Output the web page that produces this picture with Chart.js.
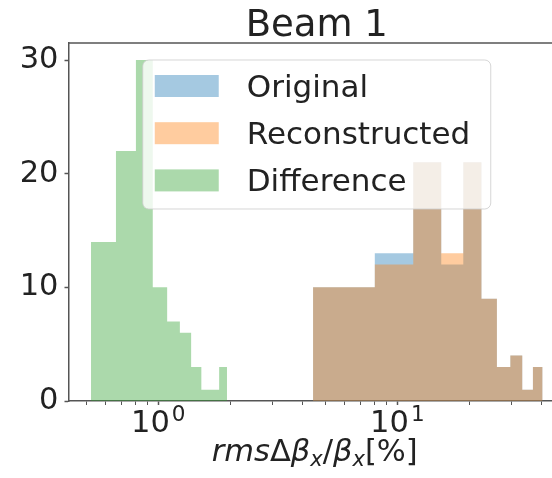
<!DOCTYPE html>
<html>
<head>
<meta charset="utf-8">
<script src="https://cdn.jsdelivr.net/npm/chart.js@4.4.1/dist/chart.umd.min.js"></script>
<style>
  html, body { margin: 0; padding: 0; background: #fff; overflow: hidden; }
  #wrap { width: 552px; height: 478px; overflow: hidden; }
</style>
</head>
<body>
<div id="wrap"><canvas id="histChart" width="567" height="478"></canvas></div>
<script>

    // histogram data
    const seriesLabels = ['Original', 'Reconstructed', 'Difference'];
    const beamEdges = [4.44, 8.05, 11.66, 15.27, 18.88, 22.49, 26.10, 29.71, 33.32, 36.93, 40.54];
    const originalCounts = [10, 13, 21, 12, 21, 9, 3, 4, 1, 3];
    const reconstructedCounts = [10, 12, 21, 13, 21, 9, 3, 4, 1, 3];
    const diffEdges = [0.523, 0.665, 0.806, 0.948, 1.089, 1.231, 1.372, 1.514, 1.655, 1.797, 1.938];
    const diffCounts = [14, 22, 30, 10, 7, 6, 3, 1, 1, 3];

    const xTickValues = [0.5, 0.6, 0.7, 0.8, 0.9, 1, 2, 3, 4, 5, 6, 7, 8, 9, 10, 20, 30, 40];
    // major x ticks: base and exponent, drawn as 10^n
    const xMajorTicks = [1, 10];
    const xMajorExponents = ['0', '1'];
    const yTickValues = [0, 10, 20, 30];

    const colors = ['rgba(31,119,180,0.4)', 'rgba(255,127,14,0.4)', 'rgba(44,160,44,0.4)'];
    const font = '"DejaVu Sans", sans-serif';
    const textColor = '#222';
    const axisColor = '#555';

    function histPoints(edges, counts) {
        let pts = [];
        for (let i = 0; i < counts.length; i++) {
            pts.push({x: edges[i], y: counts[i]});
        }
        pts.push({x: edges[edges.length - 1], y: counts[counts.length - 1]});
        return pts;
    }

    function histDataset(label, edges, counts, color, order) {
        return {
            label: label,
            data: histPoints(edges, counts),
            stepped: true,
            fill: 'origin',
            backgroundColor: color,
            borderColor: 'transparent',
            borderWidth: 0,
            pointRadius: 0,
            order: order
        };
    }

    // title, x tick labels, x label, top spine and the legend box
    const decorations = {
        id: 'decorations',
        afterDraw(chart) {
            const ctx = chart.ctx;
            const area = chart.chartArea;
            const cx = (area.left + area.right) / 2;
            ctx.save();

            ctx.strokeStyle = axisColor;
            ctx.lineWidth = 1.5;
            ctx.beginPath();
            ctx.moveTo(area.left, area.top);
            ctx.lineTo(area.right, area.top);
            ctx.lineTo(area.right, area.bottom);
            ctx.stroke();

            ctx.fillStyle = textColor;
            ctx.textBaseline = 'alphabetic';
            ctx.textAlign = 'center';
            ctx.font = '37px ' + font;
            ctx.fillText('Beam 1', cx, 36);

            // 10^0, 10^1 under the major ticks
            ctx.textAlign = 'left';
            xMajorTicks.forEach(function (v, i) {
                const px = chart.scales.x.getPixelForValue(v);
                ctx.font = '30.5px ' + font;
                const wBase = ctx.measureText('10').width;
                ctx.font = '21.5px ' + font;
                const wExp = ctx.measureText(xMajorExponents[i]).width;
                const left = px - (wBase + wExp + 2) / 2;
                ctx.font = '30.5px ' + font;
                ctx.fillText('10', left, 432);
                ctx.font = '21.5px ' + font;
                ctx.fillText(xMajorExponents[i], left + wBase + 2, 421);
            });

            // rms Δβx/βx [%] in mathtext style
            const parts = [
                {t: 'rms', it: true}, {t: 'Δ'}, {t: 'β', it: true}, {t: 'x', it: true, sub: true},
                {t: '/'}, {t: 'β', it: true}, {t: 'x', it: true, sub: true}, {t: '[%]'}
            ];
            const partFont = function (p) {
                return (p.it ? 'italic ' : '') + (p.sub ? 21 : 30.5) + 'px ' + font;
            };
            let total = 0;
            parts.forEach(function (p) {
                ctx.font = partFont(p);
                p.w = ctx.measureText(p.t).width;
                total += p.w;
            });
            let x = cx - total / 2 - 2;
            parts.forEach(function (p) {
                ctx.font = partFont(p);
                ctx.fillText(p.t, x, p.sub ? 466 : 461);
                x += p.w;
            });

            // legend
            const boxW = 348, boxH = 149;
            const bx = cx - boxW / 2, by = area.top + 17;
            ctx.beginPath();
            ctx.roundRect(bx, by, boxW, boxH, 6);
            ctx.fillStyle = 'rgba(255,255,255,0.8)';
            ctx.fill();
            ctx.strokeStyle = 'rgba(204,204,204,0.8)';
            ctx.lineWidth = 1;
            ctx.stroke();

            ctx.font = '31px ' + font;
            chart.data.datasets.forEach(function (ds, i) {
                const rowTop = by + 15 + i * 47.2;
                ctx.fillStyle = ds.backgroundColor;
                ctx.fillRect(bx + 12, rowTop, 64, 22);
                ctx.fillStyle = textColor;
                ctx.fillText(ds.label, bx + 104, rowTop + 21.5);
            });

            ctx.restore();
        }
    };

    let histData = {
        datasets: [
            histDataset(seriesLabels[0], beamEdges, originalCounts, colors[0], 3),
            histDataset(seriesLabels[1], beamEdges, reconstructedCounts, colors[1], 2),
            histDataset(seriesLabels[2], diffEdges, diffCounts, colors[2], 1)
        ]
    };

    let histOptions = {
        responsive: false,
        animation: false,
        events: [],
        layout: {padding: {top: 43, right: 2, left: 0, bottom: 0}},
        plugins: {
            legend: {display: false},
            tooltip: {enabled: false}
        },
        scales: {
            x: {
                type: 'logarithmic',
                min: 0.421,
                max: 50.3,
                afterBuildTicks: function (axis) {
                    axis.ticks = xTickValues.map(function (v) {
                        return {value: v, major: xMajorTicks.indexOf(v) >= 0};
                    });
                },
                afterFit: function (axis) {
                    axis.height = 77;
                },
                grid: {
                    display: true,
                    drawOnChartArea: false,
                    drawTicks: true,
                    tickLength: 4,
                    tickColor: axisColor,
                    tickWidth: function (c) {
                        return xMajorTicks.indexOf(c.tick.value) >= 0 ? 1.5 : 1;
                    }
                },
                border: {display: true, color: axisColor, width: 1.5},
                ticks: {
                    autoSkip: false,
                    maxRotation: 0,
                    minRotation: 0,
                    callback: function () {
                        return '';
                    }
                }
            },
            y: {
                min: 0,
                max: 31.5,
                afterBuildTicks: function (axis) {
                    axis.ticks = yTickValues.map(function (v) {
                        return {value: v};
                    });
                },
                afterFit: function (axis) {
                    axis.width = 68.5;
                },
                grid: {
                    display: true,
                    drawOnChartArea: false,
                    drawTicks: true,
                    tickLength: 4,
                    tickColor: axisColor,
                    tickWidth: 1.5
                },
                border: {display: true, color: axisColor, width: 1.5},
                ticks: {
                    padding: 6,
                    color: textColor,
                    font: {family: font, size: 30.5}
                }
            }
        }
    };

    let ctx = document.getElementById('histChart').getContext('2d');
    new Chart(ctx, {type: 'line', data: histData, options: histOptions, plugins: [decorations]});

</script>
</body>
</html>
